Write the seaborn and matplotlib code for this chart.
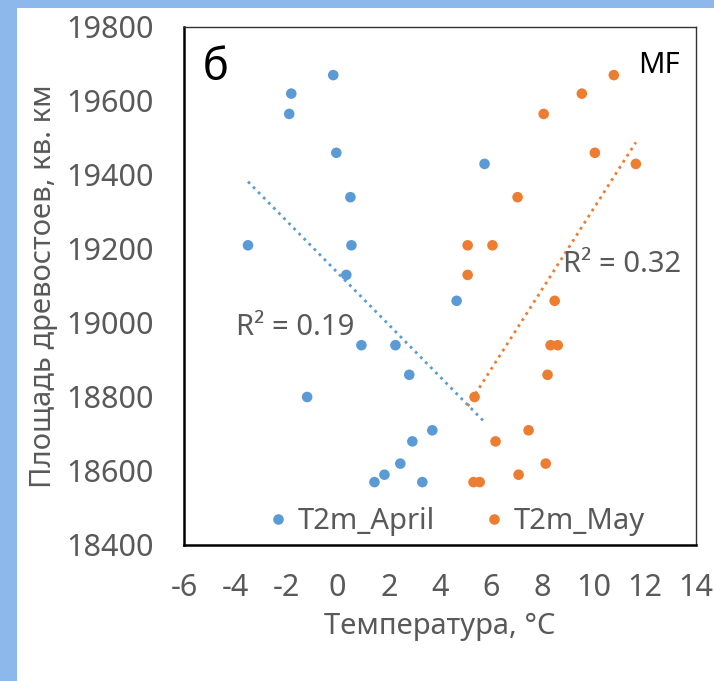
import numpy as np
import pandas as pd
import matplotlib
matplotlib.use("Agg")
import matplotlib.pyplot as plt
import seaborn as sns
from matplotlib.patches import Rectangle

# ---- data ----
area = [19620, 19565, 19670, 19460, 19340, 19210, 19130, 18940, 18940, 18860,
        18800, 18710, 18680, 18620, 18590, 18570, 18570, 19060, 19430, 19210]
t2m_april = [-1.81, -1.89, -0.17, -0.05, 0.50, 0.54, 0.34, 0.93, 2.26, 2.80,
             -1.19, 3.70, 2.92, 2.45, 1.83, 1.44, 3.31, 4.65, 5.74, -3.50]
area_may = [19670, 19620, 19565, 19460, 19430, 19340, 19210, 19210, 19130, 19060,
            18940, 18940, 18860, 18800, 18710, 18680, 18620, 18590, 18570, 18570]
t2m_may = [10.79, 9.54, 8.05, 10.05, 11.65, 7.03, 5.08, 6.05, 5.08, 8.48,
           8.32, 8.60, 8.20, 5.35, 7.46, 6.17, 8.13, 7.07, 5.31, 5.55]
series_names = ["T2m_April", "T2m_May"]
r2_labels = ["R² = 0.19", "R² = 0.32"]
x_ticks = [-6, -4, -2, 0, 2, 4, 6, 8, 10, 12, 14]
y_ticks = [18400, 18600, 18800, 19000, 19200, 19400, 19600, 19800]

df = pd.DataFrame({
    "temp": t2m_april + t2m_may,
    "area": area + area_may,
    "series": [series_names[0]] * len(t2m_april) + [series_names[1]] * len(t2m_may),
})

colors = {"T2m_April": "#5B9BD5", "T2m_May": "#ED7D31"}
gray = "#595959"

sns.set_theme(style="white")
plt.rcParams["font.family"] = ["Noto Sans", "DejaVu Sans"]

fig = plt.figure(figsize=(7.14, 6.81), dpi=100)
fig.patch.set_facecolor("#8db8ec")
bg = Rectangle((17 / 714, 0), 1 - 17 / 714, 1 - 8 / 681,
               transform=fig.transFigure, facecolor="white",
               edgecolor="none", zorder=-10)
fig.patches.append(bg)
ax = fig.add_axes([184 / 714, 1 - 545 / 681, (696 - 184) / 714, (545 - 27) / 681])
ax.set_zorder(5)
ax.set_facecolor("white")

sns.scatterplot(data=df, x="temp", y="area", hue="series", palette=colors,
                s=58, edgecolor="none", ax=ax, zorder=3)

for name, xs, ys in [("T2m_April", t2m_april, area), ("T2m_May", t2m_may, area_may)]:
    sub = pd.DataFrame({"x": xs, "y": ys})
    sns.regplot(data=sub, x="x", y="y", scatter=False, ci=None, truncate=True,
                color=colors[name], ax=ax,
                line_kws=dict(linestyle=(0, (1, 1.6)), linewidth=2.0, zorder=2))

ax.set_xlim(-6, 14)
ax.set_ylim(18400, 19800)
ax.set_xticks(x_ticks)
ax.set_yticks(y_ticks)
ax.set_xticklabels([str(v) for v in x_ticks])
ax.set_yticklabels([str(v) for v in y_ticks])
ax.tick_params(axis="both", which="major", direction="out", length=7, width=1.2,
               color="black", labelsize=22, labelcolor=gray)
ax.tick_params(axis="y", pad=15)
ax.tick_params(axis="x", pad=13)

ax.set_xlabel("Температура, °C", fontsize=21, color=gray)
ax.set_ylabel("Площадь древостоев, кв. км", fontsize=21, color=gray)
ax.xaxis.set_label_coords(0.5, (545 - 612) / 518)
ax.yaxis.set_label_coords((58 - 184) / 512, 0.5)

for side in ["left", "bottom"]:
    ax.spines[side].set_color("black")
    ax.spines[side].set_linewidth(1.8)
for side in ["top", "right"]:
    ax.spines[side].set_color("#333333")
    ax.spines[side].set_linewidth(1.0)

ax.text((203 - 184) / 512, 1 - (80 - 27) / 518, "б", transform=ax.transAxes,
        fontsize=31, color="black", ha="left", va="baseline")
ax.text((680 - 184) / 512, 1 - (73 - 27) / 518, "MF", transform=ax.transAxes,
        fontsize=21, color="black", ha="right", va="baseline")
ax.text(-1.66, 18987, r2_labels[0], fontsize=21, color=gray, ha="center", va="center")
ax.text(11.1, 19157, r2_labels[1], fontsize=21, color=gray, ha="center", va="center")

leg = ax.legend(loc="center", bbox_to_anchor=((454 - 184) / 512, (545 - 522) / 518),
                ncol=2, frameon=False, fontsize=21, markerscale=1.0,
                handlelength=1.0, handletextpad=0.2, columnspacing=1.5)
for t in leg.get_texts():
    t.set_color(gray)

fig.savefig("out.png", dpi=100, facecolor=fig.get_facecolor())
